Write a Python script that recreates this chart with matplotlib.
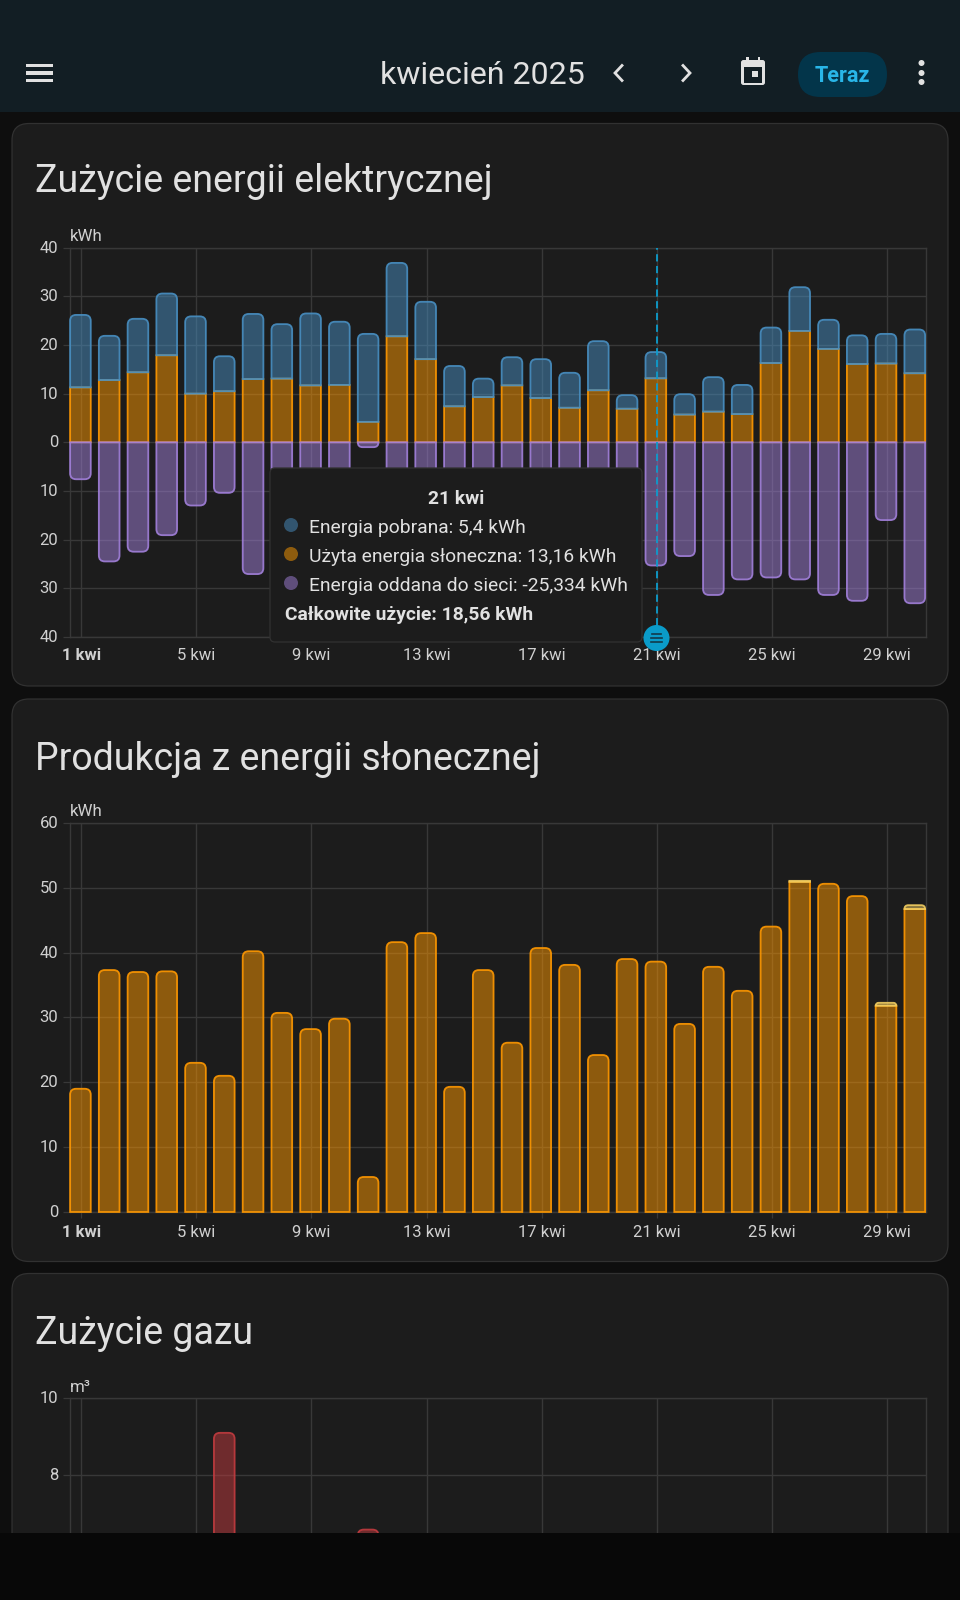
#!/usr/bin/env python

## Energy dashboard, april 2025 (dark theme phone screenshot)

import matplotlib
matplotlib.use('Agg')
import matplotlib.pyplot as plt
from matplotlib.path import Path
from matplotlib.patches import PathPatch, FancyBboxPatch, Rectangle, Circle
from matplotlib.transforms import ScaledTranslation

plt.rcParams['font.family'] = ['Roboto', 'DejaVu Sans']

W, H = 960, 1600

days = list(range(1, 31))
tick_days = [1, 5, 9, 13, 17, 21, 25, 29]
tick_labels = ['1 kwi', '5 kwi', '9 kwi', '13 kwi', '17 kwi', '21 kwi', '25 kwi', '29 kwi']

# top of the blue part of the stack (grid + solar)
total_use = [26.2, 21.9, 25.4, 30.6, 25.9, 17.7, 26.4, 24.3, 26.5, 24.8,
             22.3, 36.9, 28.9, 15.7, 13.1, 17.5, 17.1, 14.3, 20.8, 9.7,
             18.56, 9.9, 13.4, 11.8, 23.6, 31.9, 25.2, 22.0, 22.3, 23.2]
solar_used = [11.3, 12.8, 14.4, 17.9, 10.0, 10.5, 13.0, 13.1, 11.7, 11.8,
              4.2, 21.8, 17.1, 7.4, 9.3, 11.7, 9.1, 7.1, 10.7, 6.9,
              13.16, 5.7, 6.3, 5.8, 16.3, 22.9, 19.2, 16.1, 16.2, 14.2]
# days 8-10 and 12-20 sit behind the tooltip, estimated
grid_return = [-7.6, -24.5, -22.5, -19.1, -13.0, -10.4, -27.1, -17.5, -16.4, -17.9,
               -1.0, -19.7, -25.8, -11.7, -27.9, -14.3, -31.4, -30.9, -13.3, -32.0,
               -25.334, -23.4, -31.4, -28.2, -27.8, -28.2, -31.4, -32.6, -16.0, -33.1]

solar_prod = [19.0, 37.3, 37.0, 37.1, 23.0, 21.0, 40.2, 30.7, 28.2, 29.8,
              5.4, 41.6, 43.0, 19.3, 37.3, 26.1, 40.7, 38.1, 24.2, 39.0,
              38.6, 29.0, 37.8, 34.1, 44.0, 50.9, 50.6, 48.7, 31.8, 46.7]
# second solar source, only a sliver on a few days
solar_extra = {26: 0.15, 29: 0.45, 30: 0.6}

gas_days = [6, 11]
gas_values = [9.1, 6.6]

BG = '#0e0e0e'
HEADER = '#121e24'
CARD = '#1c1c1c'
BORDER = '#313131'
GRIDC = '#383838'
TEXT = '#e1e1e1'
LABEL = '#d0d0d0'

BLUE = '#488fc2'
ORANGE = '#ff9800'
PURPLE = '#a280db'
YELLOW = '#f0cc60'
RED = '#c23b3f'

BAR_W = 20.7 / 28.8
BAR_SHIFT = -0.03


def px_axes(fig, x0, y0, x1, y1, z=1):
    return fig.add_axes([x0 / W, 1 - y1 / H, (x1 - x0) / W, (y1 - y0) / H], zorder=z)


def draw_bar(ax, day, base, end, color, rounded=True, alpha=0.5):
    # bar with two rounded corners at the far end, radius given in pixels
    if base == end:
        return
    bbox = ax.get_position()
    x0, x1 = ax.get_xlim()
    y0, y1 = ax.get_ylim()
    px_x = (x1 - x0) / (bbox.width * W)
    px_y = (y1 - y0) / (bbox.height * H)
    xl = day + BAR_SHIFT - BAR_W / 2
    xr = day + BAR_SHIFT + BAR_W / 2
    sign = 1 if end > base else -1
    r = min(6.0, abs(end - base) / px_y) if rounded else 0
    rx, ry = r * px_x, r * px_y * sign
    verts = [(xl, base), (xl, end - ry), (xl, end), (xl + rx, end),
             (xr - rx, end), (xr, end), (xr, end - ry), (xr, base), (xl, base)]
    codes = [Path.MOVETO, Path.LINETO, Path.CURVE3, Path.CURVE3,
             Path.LINETO, Path.CURVE3, Path.CURVE3, Path.LINETO, Path.CLOSEPOLY]
    face = matplotlib.colors.to_rgba(color, alpha)
    edge = matplotlib.colors.to_rgba(color, 0.9)
    ax.add_patch(PathPatch(Path(verts, codes), facecolor=face, edgecolor=edge,
                           linewidth=1.3, clip_on=False, zorder=3))


def setup_chart(ax, ylim, yticks, ylabels, unit, xtick_len, xlabels=tick_labels):
    ax.set_xlim(0.608, 30.36)
    ax.set_ylim(*ylim)
    ax.patch.set_visible(False)
    ax.set_xticks(tick_days)
    ax.set_xticklabels(xlabels)
    if xlabels[0]:
        ax.get_xticklabels()[0].set_fontweight('bold')
    ax.set_yticks(yticks)
    ax.set_yticklabels(ylabels)
    ax.tick_params(axis='x', length=xtick_len, width=0.9, color=GRIDC, labelcolor=LABEL,
                   labelsize=12, pad=8.4 - xtick_len * 0.72)
    ax.tick_params(axis='y', length=5, width=0.9, color=GRIDC, labelcolor=LABEL,
                   labelsize=12, pad=3.5)
    # y labels sit a touch above their grid lines
    up = ScaledTranslation(0, 1 / 100, ax.figure.dpi_scale_trans)
    for lab in ax.get_yticklabels():
        lab.set_transform(lab.get_transform() + up)
    ax.grid(True, color=GRIDC, linewidth=1.0, zorder=1)
    ax.set_axisbelow(True)
    for s in ax.spines.values():
        s.set_color(GRIDC)
        s.set_linewidth(1.0)
    ax.text(0, 1.009, unit, transform=ax.transAxes, color=LABEL, fontsize=12.2,
            ha='left', va='bottom')


fig = plt.figure(figsize=(W / 100, H / 100), dpi=100, facecolor=BG)

# background layer in plain pixels
ui = px_axes(fig, 0, 0, W, H, z=0)
ui.set_xlim(0, W)
ui.set_ylim(H, 0)
ui.axis('off')
ui.add_patch(Rectangle((0, 0), W, 112, color=HEADER, lw=0))
for top, bottom in [(123.5, 686), (699, 1261.5), (1273.5, 1700)]:
    ui.add_patch(FancyBboxPatch((12, top), 936, bottom - top, boxstyle='round,pad=0,rounding_size=17',
                                facecolor=CARD, edgecolor=BORDER, linewidth=0.9))
ui.text(35, 178, 'Zużycie energii elektrycznej', color=TEXT, fontsize=27, va='center_baseline')
ui.text(35, 755, 'Produkcja z energii słonecznej', color=TEXT, fontsize=27, va='center_baseline')
ui.text(35, 1330, 'Zużycie gazu', color=TEXT, fontsize=27, va='center_baseline')

# header
ui.text(380, 72, 'kwiecień 2025', color=TEXT, fontsize=23.1, va='center_baseline')
for y in (65.5, 73, 80.5):
    ui.add_patch(Rectangle((26, y - 1.6), 26.5, 3.2, color=TEXT, lw=0))
ui.plot([622, 615, 622], [65.5, 73, 80.5], color=TEXT, lw=2, solid_joinstyle='miter')
ui.plot([683, 690, 683], [65.5, 73, 80.5], color=TEXT, lw=2, solid_joinstyle='miter')
ui.add_patch(FancyBboxPatch((741, 60), 24, 25, boxstyle='round,pad=0,rounding_size=2.5', color=TEXT, lw=0))
ui.add_patch(Rectangle((744, 67), 18, 15.5, color=HEADER, lw=0))
ui.add_patch(Rectangle((752, 71), 6, 6, color=TEXT, lw=0))
ui.add_patch(Rectangle((746, 57), 2.6, 5, color=TEXT, lw=0))
ui.add_patch(Rectangle((757.5, 57), 2.6, 5, color=TEXT, lw=0))
ui.add_patch(FancyBboxPatch((798, 52), 89, 45, boxstyle='round,pad=0,rounding_size=22.5', color='#03354a', lw=0))
ui.text(842.5, 74, 'Teraz', color='#29b6e8', fontsize=15.6, fontweight='bold', ha='center', va='center_baseline')
for y in (63, 73, 82):
    ui.add_patch(Circle((921.5, y), 3, color=TEXT, lw=0))

# electricity chart
ax1 = px_axes(fig, 70, 247.8, 926, 636.8)
setup_chart(ax1, (-40, 40), [-40, -30, -20, -10, 0, 10, 20, 30, 40],
            ['40', '30', '20', '10', '0', '10', '20', '30', '40'], 'kWh', 0)
for d, tot, sol, ret in zip(days, total_use, solar_used, grid_return):
    draw_bar(ax1, d, 0, sol, ORANGE, rounded=False)
    draw_bar(ax1, d, sol, tot, BLUE)
    draw_bar(ax1, d, 0, ret, PURPLE)
ax1.axvline(21, color='#0c9ccc', linewidth=1.3, linestyle=(0, (4, 2.5)), zorder=4)

# solar chart
ax2 = px_axes(fig, 70, 822.8, 926, 1212)
setup_chart(ax2, (0, 60), [0, 10, 20, 30, 40, 50, 60],
            ['0', '10', '20', '30', '40', '50', '60'], 'kWh', 4)
for d, val in zip(days, solar_prod):
    extra = solar_extra.get(d, 0)
    draw_bar(ax2, d, 0, val, ORANGE, rounded=(extra == 0))
    if extra:
        draw_bar(ax2, d, val, val + extra, YELLOW, rounded=(d != 26))

# gas chart, mostly scrolled off the screen, only the top labels show
ax3 = px_axes(fig, 70, 1398, 926, 1785)
setup_chart(ax3, (0, 10), [8, 10], ['8', '10'], 'm³', 4, xlabels=[''] * len(tick_days))
ax3.axhline(6, color=GRIDC, linewidth=1.0, zorder=1)
for d, val in zip(gas_days, gas_values):
    draw_bar(ax3, d, 0, val, RED)

# tooltip and bottom bar on top of everything
top = px_axes(fig, 0, 0, W, H, z=5)
top.set_xlim(0, W)
top.set_ylim(H, 0)
top.axis('off')
top.patch.set_visible(False)
top.add_patch(FancyBboxPatch((270, 468), 372, 174, boxstyle='round,pad=0,rounding_size=5',
                             facecolor=CARD, edgecolor=BORDER, linewidth=0.9))
top.text(456, 497, '21 kwi', color=TEXT, fontsize=13.9, fontweight='bold', ha='center', va='center_baseline')
rows = [(526, '#32556f', 'Energia pobrana: 5,4 kWh'),
        (555, '#8e5c0e', 'Użyta energia słoneczna: 13,16 kWh'),
        (584, '#5f4e7b', 'Energia oddana do sieci: -25,334 kWh')]
for y, c, s in rows:
    top.add_patch(Circle((291, y - 1), 7, color=c, lw=0))
    top.text(309, y, s, color=TEXT, fontsize=13.9, va='center_baseline')
top.text(285, 613, 'Całkowite użycie: 18,56 kWh', color=TEXT, fontsize=13.9, fontweight='bold', va='center_baseline')

top.add_patch(Circle((656.5, 638), 13, color='#0a9bc9', lw=0))
for y, x0, x1 in [(634, 652, 661), (638, 651, 661.5), (642, 651, 661.5)]:
    top.plot([x0, x1], [y, y], color='#123a4a', lw=1.2)

top.add_patch(Rectangle((0, 1533), W, H - 1533, color='#080808', lw=0))

fig.savefig('out.png', dpi=100, facecolor=BG)
